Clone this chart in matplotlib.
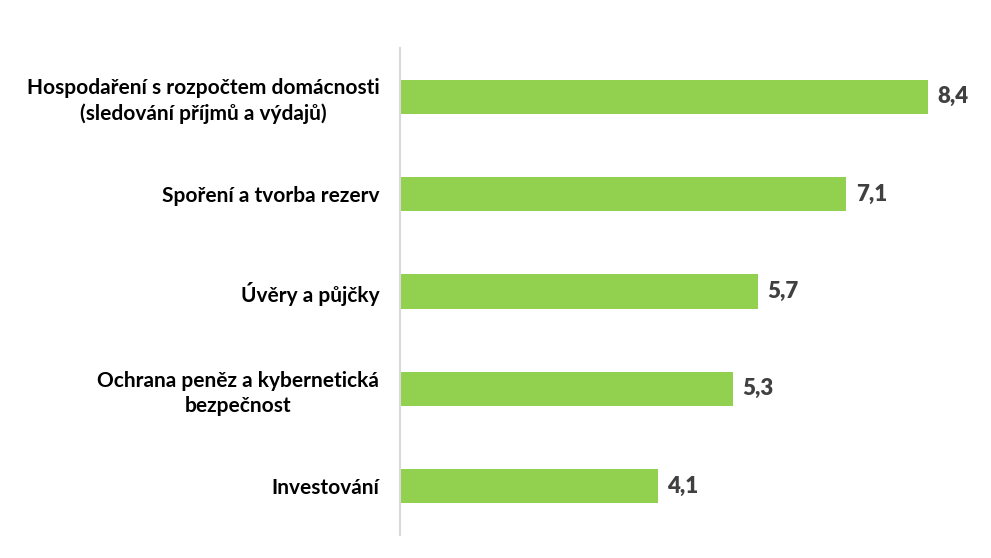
import matplotlib.pyplot as plt

categories = ['Hospodaření s rozpočtem domácnosti\n(sledování příjmů a výdajů)',
              'Spoření a tvorba rezerv',
              'Úvěry a půjčky',
              'Ochrana peněz a kybernetická\nbezpečnost',
              'Investování']
values = [8.4, 7.1, 5.7, 5.3, 4.1]
value_labels = ['8,4', '7,1', '5,7', '5,3', '4,1']

plt.rcParams['font.family'] = ['Lato', 'DejaVu Sans']

fig = plt.figure(figsize=(9.91, 5.58), dpi=100)
ax = fig.add_axes([400/991, 23/558, 565.7/991, 487/558])

ypos = list(range(len(categories)))
ax.barh(ypos, values, height=0.35, color='#92D050')
ax.set_ylim(len(categories) - 0.5, -0.5)
ax.set_xlim(0, 9)

for y, v, lab in zip(ypos, values, value_labels):
    ax.text(v + 0.15, y, lab, va='center', ha='left', fontsize=16,
            fontweight='heavy', color='#404040')

ax.set_yticks(ypos)
ax.set_yticklabels(categories, fontsize=15, fontweight='bold', color='black',
                   ha='right', multialignment='center', linespacing=1.3)
ax.tick_params(axis='y', length=0, pad=15)
ax.set_xticks([])
for s in ['top', 'right', 'bottom']:
    ax.spines[s].set_visible(False)
ax.spines['left'].set_color('#D9D9D9')
ax.spines['left'].set_linewidth(1.5)

fig.savefig('out.png', dpi=100)
